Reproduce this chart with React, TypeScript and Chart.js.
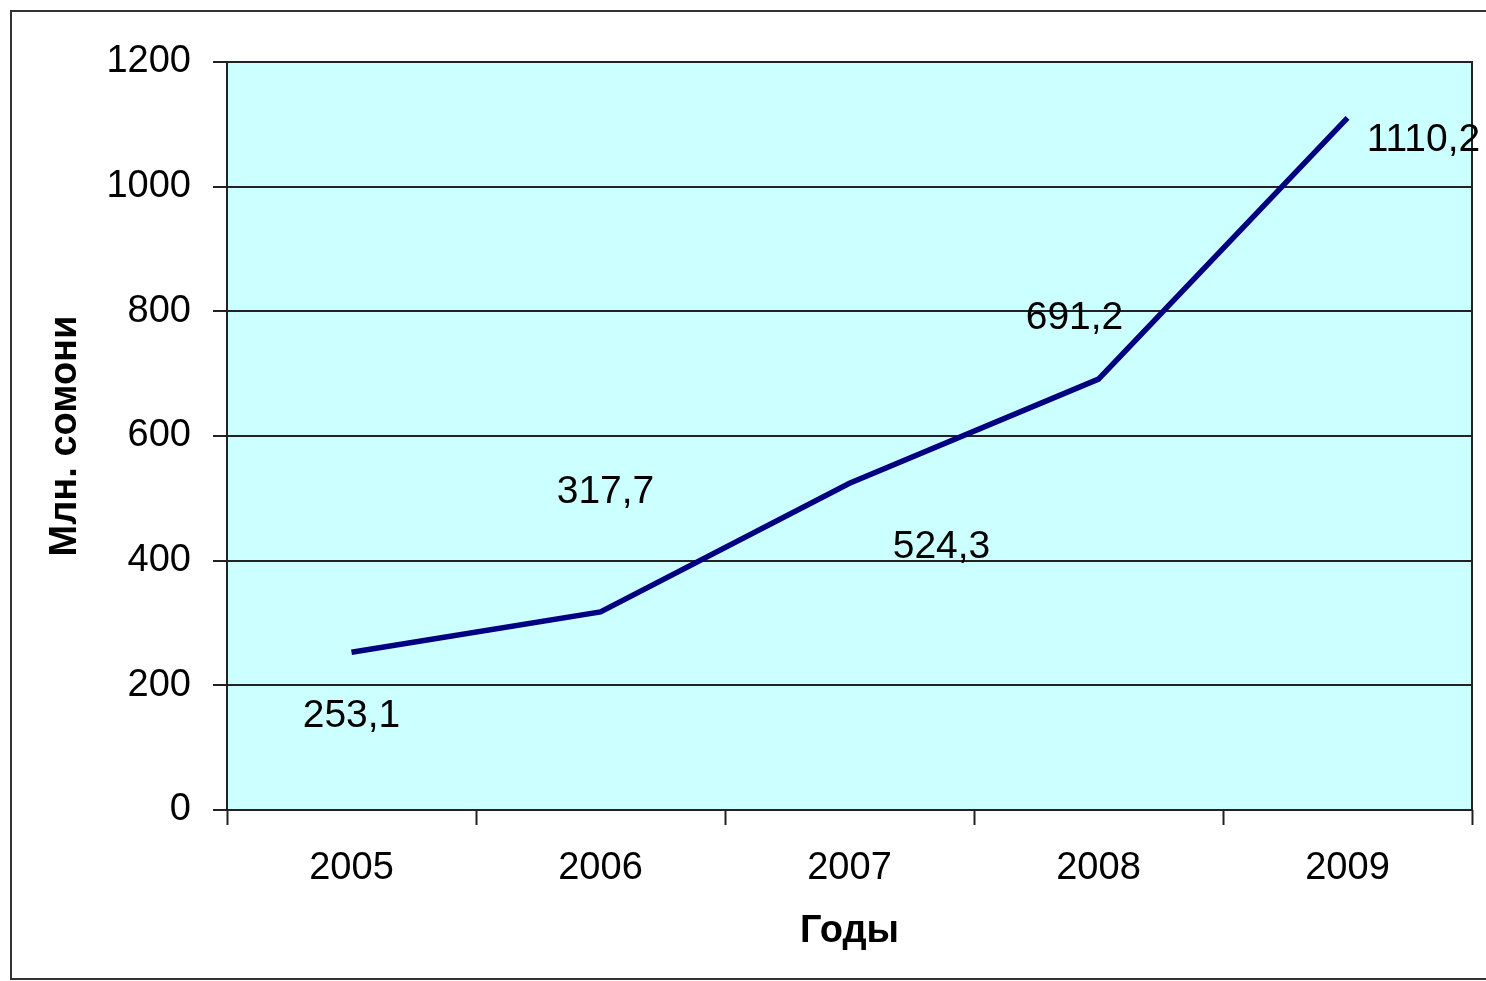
import React, { useEffect, useRef } from "react";
import { Chart, registerables } from "chart.js";

Chart.register(...registerables);

const years = ["2005", "2006", "2007", "2008", "2009"];
const values = [253.1, 317.7, 524.3, 691.2, 1110.2];
const yTicks = [0, 200, 400, 600, 800, 1000, 1200];
const yTitle = "Млн. сомони";
const xTitle = "Годы";

const FONT = "'Liberation Sans', Arial, sans-serif";

// per-point label offsets (Excel-like placement), in px from the point
const labelOffsets: [number, number][] = [
  [0, 64],
  [5, -120],
  [92, 64],
  [-24, -61],
  [76, 22],
];

const decor = {
  id: "decor",
  beforeDraw(chart: any) {
    const { ctx, chartArea } = chart;
    ctx.save();
    ctx.fillStyle = "#ffffff";
    ctx.fillRect(0, 0, chart.width, chart.height);
    ctx.fillStyle = "#ccffff";
    ctx.fillRect(chartArea.left, chartArea.top, chartArea.right - chartArea.left, chartArea.bottom - chartArea.top);
    ctx.strokeStyle = "#333333";
    ctx.lineWidth = 2;
    ctx.beginPath();
    ctx.moveTo(chart.width + 10, 11);
    ctx.lineTo(11, 11);
    ctx.lineTo(11, 979);
    ctx.lineTo(chart.width + 10, 979);
    ctx.stroke();
    ctx.restore();
  },
  beforeDatasetsDraw(chart: any) {
    const { ctx, chartArea } = chart;
    ctx.save();
    ctx.strokeStyle = "#222222";
    ctx.lineWidth = 2;
    ctx.strokeRect(chartArea.left, chartArea.top, chartArea.right - chartArea.left, chartArea.bottom - chartArea.top);
    ctx.restore();
  },
  afterDatasetsDraw(chart: any) {
    const { ctx } = chart;
    const meta = chart.getDatasetMeta(0);
    ctx.save();
    ctx.font = `39px ${FONT}`;
    ctx.fillStyle = "#000000";
    ctx.textAlign = "center";
    ctx.textBaseline = "middle";
    meta.data.forEach((pt: any, i: number) => {
      const v = chart.data.datasets[0].data[i] as number;
      const txt = v.toFixed(1).replace(".", ",");
      const [dx, dy] = labelOffsets[i];
      ctx.fillText(txt, pt.x + dx, pt.y + dy);
    });
    ctx.restore();
  },
};

export default function App() {
  const ref = useRef<HTMLCanvasElement | null>(null);
  useEffect(() => {
    if (!ref.current) return;
    const chart = new Chart(ref.current, {
      type: "line",
      data: {
        labels: years,
        datasets: [
          {
            data: values,
            borderColor: "#000080",
            borderWidth: 5.5,
            pointRadius: 0,
            tension: 0,
            fill: false,
          },
        ],
      },
      options: {
        animation: false,
        responsive: true,
        maintainAspectRatio: false,
        devicePixelRatio: 1,
        layout: { padding: { top: 62, right: 14, left: 0, bottom: 0 } },
        plugins: { legend: { display: false }, tooltip: { enabled: false } },
        scales: {
          x: {
            type: "category",
            offset: true,
            grid: {
              display: true,
              offset: true,
              drawOnChartArea: false,
              drawTicks: true,
              tickLength: 15,
              tickWidth: 2,
              tickColor: "#222222",
            },
            border: { display: false },
            ticks: {
              color: "#000000",
              font: { family: FONT, size: 38 },
              padding: 21,
              maxRotation: 0,
            },
            title: {
              display: true,
              text: xTitle,
              color: "#000000",
              font: { family: FONT, size: 38, weight: "bold" },
              padding: { top: 0, bottom: 27 },
            },
            afterFit(scale: any) {
              scale.height = 171;
            },
          },
          y: {
            min: 0,
            max: 1200,
            afterBuildTicks(scale: any) {
              scale.ticks = yTicks.map((v) => ({ value: v }));
            },
            grid: {
              display: true,
              color: "#222222",
              lineWidth: 2,
              tickLength: 14,
              tickWidth: 2,
              tickColor: "#222222",
            },
            border: { display: false },
            ticks: {
              color: "#000000",
              font: { family: FONT, size: 38 },
              padding: 22,
              callback: (v: any) => String(v),
            },
            title: {
              display: true,
              text: yTitle,
              color: "#000000",
              font: { family: FONT, size: 38, weight: "bold" },
              padding: { top: 43, bottom: 0 },
            },
            afterFit(scale: any) {
              scale.width = 227;
            },
          },
        },
      },
      plugins: [decor],
    });
    return () => chart.destroy();
  }, []);
  return (
    <div style={{ position: "fixed", left: 0, top: 0, width: 1486, height: 981, background: "#fff" }}>
      <canvas ref={ref} />
    </div>
  );
}
